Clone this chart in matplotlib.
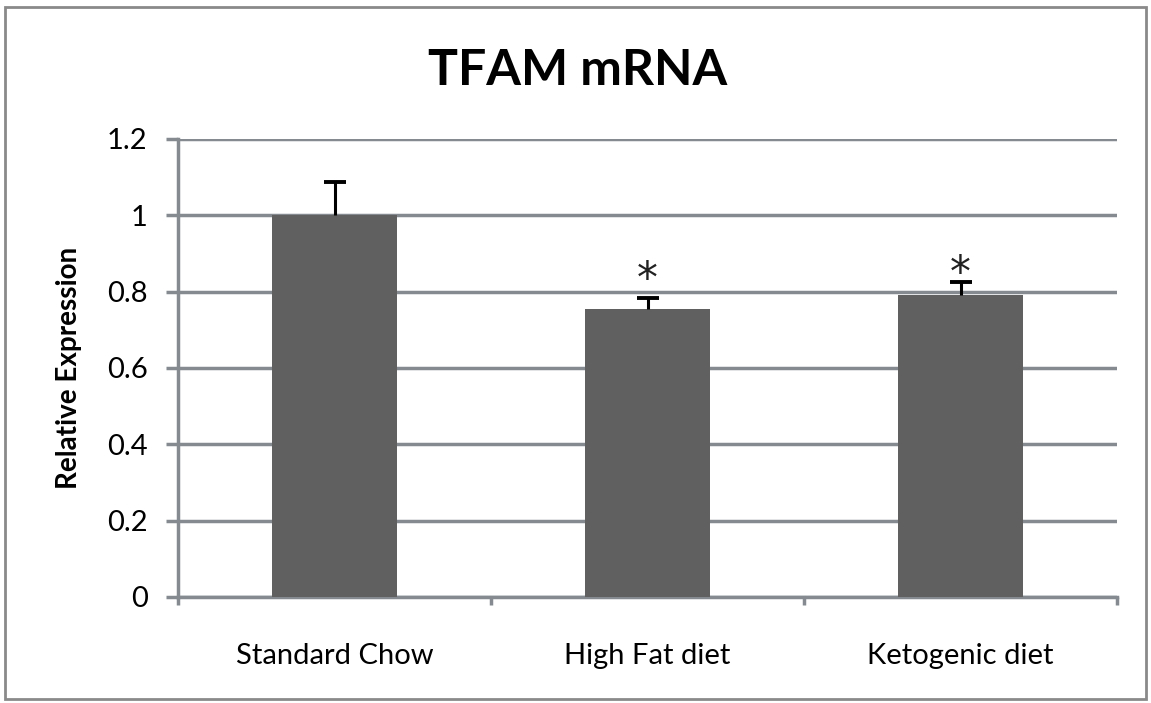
import numpy as np
import matplotlib
matplotlib.use("Agg")
from matplotlib import pyplot as plt
from matplotlib.patches import Rectangle

plt.rcParams['font.family'] = ['Lato', 'DejaVu Sans']

# data
diets = ["Standard Chow", "High Fat diet", "Ketogenic diet"]
expression = [1.0, 0.755, 0.792]
err_up = [0.087, 0.029, 0.034]
signif = ["", "*", "*"]
signif_y = [0, 0.830, 0.847]

grid_col = "#848a90"
bar_col = "#606060"

fig = plt.figure(figsize=(11.51, 7.03), dpi=100)
ax = fig.add_axes([0.1547, 0.1508, 0.8158, 0.6515])

x = np.arange(len(diets))
tops = np.array(expression) + np.array(err_up)
ax.bar(x, expression, width=0.4, color=bar_col, zorder=3)
# upper-only error bars
ax.vlines(x, expression, tops, color="black", linewidth=2.2, zorder=4)
ax.hlines(tops, x - 0.035, x + 0.035, color="black", linewidth=2.8, zorder=4)

for xi, sy, s in zip(x, signif_y, signif):
    if s:
        ax.text(xi, sy, s, ha="center", va="center", fontsize=30,
                color="#222222", family="DejaVu Sans")

ax.set_xlim(-0.5, 2.5)
ax.set_ylim(0, 1.2)
ax.set_yticks(np.arange(0, 1.21, 0.2))
ax.set_yticklabels(["0", "0.2", "0.4", "0.6", "0.8", "1", "1.2"], fontsize=21)
ax.set_xticks(x)
ax.set_xticklabels(diets, fontsize=21)
ax.set_xticks([-0.5, 0.5, 1.5, 2.5], minor=True)

ax.tick_params(axis="y", length=9, width=2.5, color=grid_col, pad=13)
ax.tick_params(axis="x", which="major", length=0, pad=33)
ax.tick_params(axis="x", which="minor", length=6, width=2.5, color=grid_col)

ax.yaxis.grid(True, color=grid_col, linewidth=2.5, zorder=1)
ax.set_axisbelow(True)
for side in ["top", "right"]:
    ax.spines[side].set_visible(False)
for side in ["left", "bottom"]:
    ax.spines[side].set_color(grid_col)
    ax.spines[side].set_linewidth(2.5)

ax.set_ylabel("Relative Expression", fontsize=20, fontweight="bold", labelpad=18)
fig.text(0.502, 0.90, "TFAM mRNA", ha="center", va="center", fontsize=36, fontweight="bold")

# outer chart border
fig.patches.append(Rectangle((0.004, 0.005), 0.992, 0.985, transform=fig.transFigure,
                             fill=False, edgecolor="#8a8a8a", linewidth=2))

fig.savefig("out.png", dpi=100)
